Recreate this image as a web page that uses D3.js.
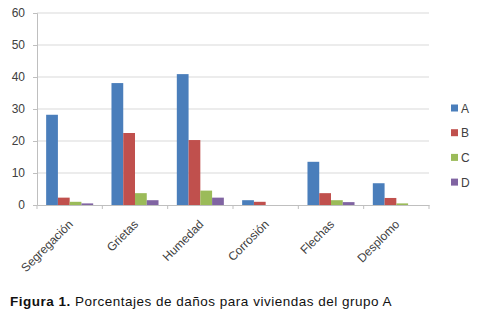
<!DOCTYPE html>
<html><head><meta charset="utf-8">
<script src="https://cdn.jsdelivr.net/npm/d3@7"></script>
<style>body{margin:0;background:#fff}svg{display:block}</style>
</head><body>
<script>
const categories = ["Segregación","Grietas","Humedad","Corrosión","Flechas","Desplomo"];
const seriesNames = ["A","B","C","D"];
const valuesA = [28.2, 38.1, 40.9, 1.5, 13.5, 6.8];
const valuesB = [2.3, 22.5, 20.3, 1.0, 3.7, 2.2];
const valuesC = [1.0, 3.7, 4.5, 0, 1.5, 0.5];
const valuesD = [0.5, 1.5, 2.3, 0, 0.9, 0];
const yTicks = [0,10,20,30,40,50,60];
const colors = ["#4a7ebb","#c0504d","#9bbb59","#8064a2"];
const caption = "Porcentajes de daños para viviendas del grupo A";

(function(){
const W = 477, H = 314;
const svg = d3.select("body").append("svg").attr("width", W).attr("height", H);
const mLeft = 37, mRight = 429, mTop = 13, mBottom = 205;
const y = d3.scaleLinear().domain([0,60]).range([mBottom, mTop]);
const x0 = d3.scaleBand().domain(categories).range([mLeft, mRight]).padding(0);
const gap = x0.bandwidth()*0.14;
const x1 = d3.scaleBand().domain(seriesNames).range([gap, x0.bandwidth()-gap]).padding(0);
const allVals = [valuesA, valuesB, valuesC, valuesD];
const font = "'Liberation Sans', Arial, sans-serif";

svg.append("g").selectAll("line").data(yTicks.filter(t=>t>0)).join("line")
  .attr("x1", mLeft).attr("x2", mRight).attr("y1", d=>y(d)).attr("y2", d=>y(d))
  .attr("stroke", "#d9d9d9").attr("stroke-width", 1);

const yAxis = svg.append("g").attr("transform", `translate(${mLeft},0)`)
  .call(d3.axisLeft(y).tickValues(yTicks).tickSize(4).tickPadding(8));
yAxis.select(".domain").attr("stroke", "#bfbfbf");
yAxis.selectAll(".tick line").attr("stroke", "#bfbfbf");
yAxis.selectAll("text").attr("fill", "#404040").style("font", `12px ${font}`);

const g = svg.append("g");
categories.forEach((c, i) => {
  seriesNames.forEach((s, j) => {
    const v = allVals[j][i];
    g.append("rect")
      .attr("x", x0(c) + x1(s))
      .attr("y", y(v))
      .attr("width", x1.bandwidth())
      .attr("height", mBottom - y(v))
      .attr("fill", colors[j]);
  });
});

const xAxis = svg.append("g").attr("transform", `translate(0,${mBottom})`)
  .call(d3.axisBottom(x0).tickSize(0).tickFormat(""));
xAxis.select(".domain").attr("stroke", "#bfbfbf");
const boundaries = categories.map(c => x0(c)).concat([mRight]);
svg.append("g").selectAll("line").data(boundaries).join("line")
  .attr("x1", d=>d).attr("x2", d=>d).attr("y1", mBottom).attr("y2", mBottom+4)
  .attr("stroke", "#bfbfbf");
svg.append("g").selectAll("text").data(categories).join("text")
  .attr("transform", d => `translate(${x0(d)+x0.bandwidth()/2+4},${mBottom+20}) rotate(-45)`)
  .attr("text-anchor", "end")
  .attr("fill", "#404040")
  .style("font", `12px ${font}`)
  .text(d => d);

const leg = svg.append("g");
seriesNames.forEach((s, j) => {
  const ly = 108 + j*24.7;
  leg.append("rect").attr("x", 451).attr("y", ly-3.5).attr("width", 7).attr("height", 7).attr("fill", colors[j]);
  leg.append("text").attr("x", 461).attr("y", ly+4.5).attr("fill", "#404040")
    .style("font", `12px ${font}`).text(s);
});

const cap = svg.append("text").attr("x", 10).attr("y", 306)
  .style("font", `13.5px ${font}`).style("letter-spacing", "0.5px").attr("fill", "#111");
cap.append("tspan").attr("font-weight", "bold").text("Figura 1.");
cap.append("tspan").text(" " + caption);
})();
</script>
</body></html>
